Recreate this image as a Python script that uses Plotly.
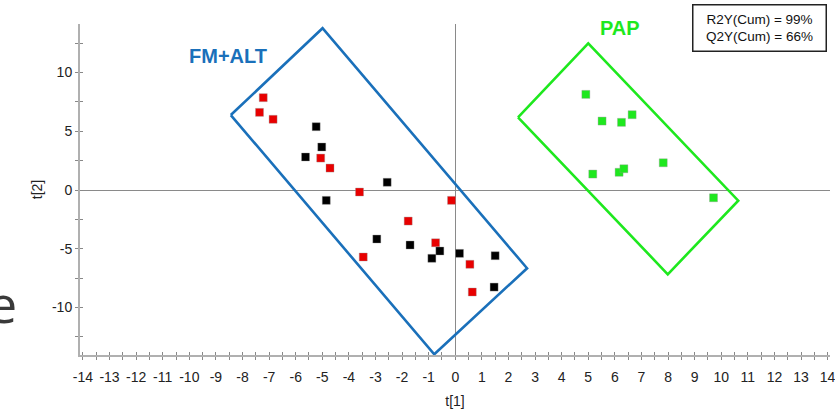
import plotly.graph_objects as go

# Score values t[1], t[2] per group
red_t1 = [-7.22, -7.36, -6.85, -5.06, -4.71, -3.60, -0.14, -1.77, -3.46, -0.74, 0.55, 0.64]
red_t2 = [7.86, 6.61, 6.02, 2.72, 1.87, -0.17, -0.88, -2.64, -5.70, -4.49, -6.32, -8.68]

black_t1 = [-5.23, -5.02, -5.63, -2.56, -4.85, -2.95, -1.70, -0.58, -0.88, 0.16, 1.50, 1.46]
black_t2 = [5.39, 3.66, 2.81, 0.66, -0.88, -4.17, -4.68, -5.19, -5.81, -5.39, -5.59, -8.26]

green_t1 = [4.91, 5.52, 6.25, 6.65, 5.17, 6.16, 6.34, 7.82, 9.71]
green_t2 = [8.14, 5.87, 5.76, 6.41, 1.36, 1.51, 1.81, 2.32, -0.66]

# Group outlines (corner points of the enclosing boxes)
fm_alt_box_t1 = [-8.44, -4.99, 2.70, -0.79, -8.44]
fm_alt_box_t2 = [6.38, 13.77, -6.66, -13.98, 6.38]

pap_box_t1 = [2.36, 5.00, 10.64, 7.99, 2.36]
pap_box_t2 = [6.19, 12.48, -0.91, -7.17, 6.19]

# Axis tick positions and their labels (plain hyphen for negatives)
x_ticks = list(range(-14, 15))
x_tick_labels = [str(v) for v in x_ticks]
y_ticks = [-10, -5, 0, 5, 10]
y_tick_labels = [str(v) for v in y_ticks]

fit_stats = ["R2Y(Cum) = 99%", "Q2Y(Cum) = 66%"]

BLUE = "#1a70ba"
GREEN = "#1ee81e"
RED = "#e80000"
FONT = "Liberation Sans, Arial, sans-serif"

X_RANGE = [-14.11, 14.09]
Y_RANGE = [-14.04, 14.13]

fig = go.Figure()

fig.add_trace(go.Scatter(x=fm_alt_box_t1, y=fm_alt_box_t2, mode="lines",
                         line=dict(color=BLUE, width=2.6), hoverinfo="skip"))
fig.add_trace(go.Scatter(x=pap_box_t1, y=pap_box_t2, mode="lines",
                         line=dict(color=GREEN, width=2.6), hoverinfo="skip"))

marker_edge = dict(color="rgba(150,150,150,0.6)", width=0.6)
fig.add_trace(go.Scatter(x=red_t1, y=red_t2, mode="markers",
                         marker=dict(symbol="square", size=8, color=RED, line=marker_edge)))
fig.add_trace(go.Scatter(x=black_t1, y=black_t2, mode="markers",
                         marker=dict(symbol="square", size=8, color="#000000", line=marker_edge)))
fig.add_trace(go.Scatter(x=green_t1, y=green_t2, mode="markers",
                         marker=dict(symbol="square", size=8, color=GREEN, line=marker_edge)))

# Empty trace on the overlay axes that draw the inner half of the tick marks
fig.add_trace(go.Scatter(x=[None], y=[None], xaxis="x2", yaxis="y2", showlegend=False))

tick_font = dict(family=FONT, size=14, color="#222222")

fig.update_layout(
    width=835, height=415,
    margin=dict(l=80, r=5, t=24, b=60, autoexpand=False),
    paper_bgcolor="white", plot_bgcolor="white",
    showlegend=False,
    font=dict(family=FONT, color="#222222"),
    xaxis=dict(
        range=X_RANGE, tickmode="array", tickvals=x_ticks, ticktext=x_tick_labels,
        ticks="outside", ticklen=3, tickcolor="#888888", tickwidth=1,
        minor=dict(tickmode="linear", tick0=0.5, dtick=1, ticks="outside",
                   ticklen=3, tickcolor="#888888", tickwidth=1),
        showgrid=False, showline=True, linecolor="#b0b0b0", linewidth=2,
        zeroline=True, zerolinecolor="#8a8a8a", zerolinewidth=1,
        tickfont=tick_font, ticklabelstandoff=5, ticklabeloverflow="allow",
        automargin=False,
        title=dict(text="t[1]", font=dict(family=FONT, size=14, color="#222222"), standoff=12),
    ),
    yaxis=dict(
        range=Y_RANGE, tickmode="array", tickvals=y_ticks, ticktext=y_tick_labels,
        ticks="outside", ticklen=3, tickcolor="#888888", tickwidth=1,
        minor=dict(tickmode="linear", tick0=2.5, dtick=5, ticks="outside",
                   ticklen=3, tickcolor="#888888", tickwidth=1),
        showgrid=False, showline=True, linecolor="#b0b0b0", linewidth=2,
        zeroline=True, zerolinecolor="#8a8a8a", zerolinewidth=1,
        tickfont=tick_font, ticklabelstandoff=0, automargin=False,
        title=dict(text="t[2]", font=dict(family=FONT, size=14, color="#222222"), standoff=6),
    ),
    xaxis2=dict(
        range=X_RANGE, overlaying="x", anchor="y", side="bottom",
        tickmode="linear", tick0=0, dtick=0.5, ticks="inside", ticklen=3,
        tickcolor="#888888", tickwidth=1, showticklabels=False,
        showgrid=False, showline=False, zeroline=False, automargin=False,
    ),
    yaxis2=dict(
        range=Y_RANGE, overlaying="y", anchor="x", side="left",
        tickmode="linear", tick0=0, dtick=2.5, ticks="inside", ticklen=3,
        tickcolor="#888888", tickwidth=1, showticklabels=False,
        showgrid=False, showline=False, zeroline=False, automargin=False,
    ),
)

# Group labels
fig.add_annotation(x=-8.55, y=11.4, xref="x", yref="y", text="<b>FM+ALT</b>",
                   showarrow=False, font=dict(family=FONT, size=20, color=BLUE))
fig.add_annotation(x=6.18, y=13.83, xref="x", yref="y", text="<b>PAP</b>",
                   showarrow=False, font=dict(family=FONT, size=20, color=GREEN))

# Model fit summary box
fig.add_annotation(x=0.9059, y=0.9888, xref="paper", yref="paper",
                   xanchor="center", yanchor="middle",
                   text="<br>".join(fit_stats), showarrow=False, align="center",
                   font=dict(family=FONT, size=13.5, color="#111111"),
                   bgcolor="white", bordercolor="#222222", borderwidth=1.5,
                   borderpad=4, width=124, height=37)

# Partial letter at the left edge
fig.add_annotation(x=(19 - 80) / 750, y=(355 - 302) / 331, xref="paper", yref="paper",
                   xanchor="right", yanchor="middle", text="e", showarrow=False,
                   font=dict(family="Open Sans, sans-serif", size=52, color="#3a3a3a"))

fig.write_html("out.html")
